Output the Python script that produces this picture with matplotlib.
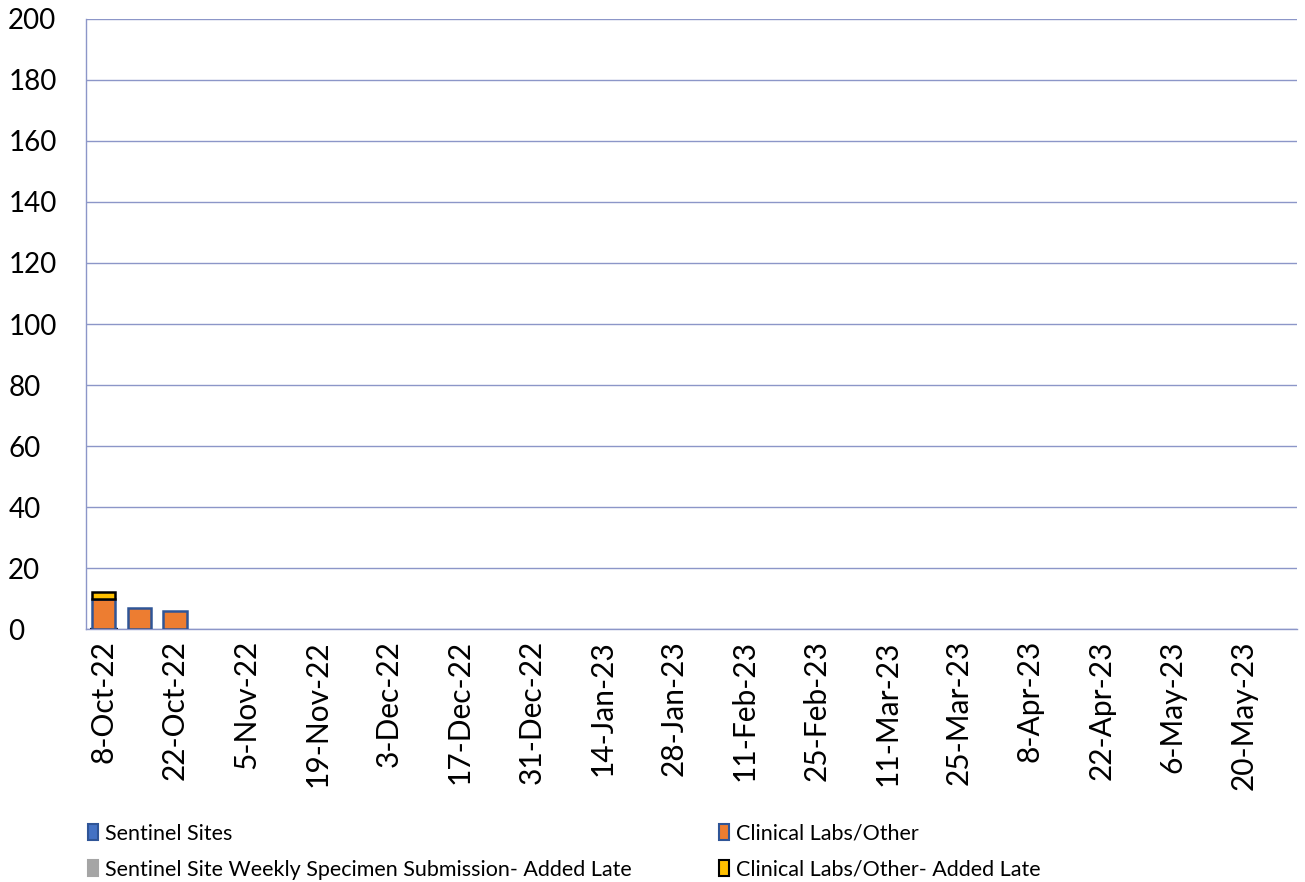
import matplotlib
matplotlib.use("Agg")
from matplotlib import pyplot as plt
import numpy as np

plt.rcParams['font.family'] = ['Lato', 'DejaVu Sans']

# weekly categories (week ending)
weeks = ["8-Oct-22", "15-Oct-22", "22-Oct-22", "29-Oct-22", "5-Nov-22", "12-Nov-22",
         "19-Nov-22", "26-Nov-22", "3-Dec-22", "10-Dec-22", "17-Dec-22", "24-Dec-22",
         "31-Dec-22", "7-Jan-23", "14-Jan-23", "21-Jan-23", "28-Jan-23", "4-Feb-23",
         "11-Feb-23", "18-Feb-23", "25-Feb-23", "4-Mar-23", "11-Mar-23", "18-Mar-23",
         "25-Mar-23", "1-Apr-23", "8-Apr-23", "15-Apr-23", "22-Apr-23", "29-Apr-23",
         "6-May-23", "13-May-23", "20-May-23", "27-May-23"]

sentinel = [0, 0, 0, 0, 0, 0, 0, 0, 0, 0, 0, 0, 0, 0, 0, 0, 0,
            0, 0, 0, 0, 0, 0, 0, 0, 0, 0, 0, 0, 0, 0, 0, 0, 0]
clinical = [10, 7, 6, 0, 0, 0, 0, 0, 0, 0, 0, 0, 0, 0, 0, 0, 0,
            0, 0, 0, 0, 0, 0, 0, 0, 0, 0, 0, 0, 0, 0, 0, 0, 0]
sentinel_late = [0, 0, 0, 0, 0, 0, 0, 0, 0, 0, 0, 0, 0, 0, 0, 0, 0,
                 0, 0, 0, 0, 0, 0, 0, 0, 0, 0, 0, 0, 0, 0, 0, 0, 0]
clinical_late = [2, 0, 0, 0, 0, 0, 0, 0, 0, 0, 0, 0, 0, 0, 0, 0, 0,
                 0, 0, 0, 0, 0, 0, 0, 0, 0, 0, 0, 0, 0, 0, 0, 0, 0]

grid_col = '#8C96C8'

fig = plt.figure(figsize=(13.05, 8.82), dpi=100)
ax = fig.add_axes([0.0659, 0.2868, 0.928, 0.6917])

x = np.arange(len(weeks))
w = 0.65
s = np.array(sentinel, dtype=float)
c = np.array(clinical, dtype=float)
sl = np.array(sentinel_late, dtype=float)
cl = np.array(clinical_late, dtype=float)

def draw(vals, bottom, color, edge, label):
    # only draw non-zero segments so empty weeks stay empty
    m = vals > 0
    ax.bar(x[m], vals[m], w, bottom=bottom[m], color=color, edgecolor=edge,
           linewidth=1.8, zorder=3)
    return ax.bar([0], [0], color=color, edgecolor=edge, linewidth=1.5, label=label)

h1 = draw(s, np.zeros_like(s), '#4472C4', '#2F5597', 'Sentinel Sites')
h2 = draw(c, s, '#ED7D31', '#2F5597', 'Clinical Labs/Other')
h3 = draw(sl, s + c, '#A5A5A5', '#A5A5A5',
          'Sentinel Site Weekly Specimen Submission- Added Late')
h4 = draw(cl, s + c + sl, '#FFC000', 'black', 'Clinical Labs/Other- Added Late')

ax.set_xlim(-0.5, len(weeks) - 0.5)
ax.set_ylim(0, 200)
ax.set_yticks(range(0, 201, 20))
ax.set_xticks(x[::2])
ax.set_xticklabels(weeks[::2], rotation=90, fontsize=21.5)
ax.tick_params(axis='y', labelsize=20, length=0, pad=56)
for lbl in ax.get_yticklabels():
    lbl.set_horizontalalignment('left')
ax.tick_params(axis='x', length=0, pad=8)
ax.yaxis.grid(True, color=grid_col, linewidth=1)
ax.set_axisbelow(True)
for sp in ['top', 'right']:
    ax.spines[sp].set_visible(False)
for sp in ['left', 'bottom']:
    ax.spines[sp].set_color(grid_col)
    ax.spines[sp].set_linewidth(1)

fig.legend(handles=[h1, h3, h2, h4], ncol=2, loc='upper left',
           bbox_to_anchor=(0.0605, 0.076), frameon=False, fontsize=15.5,
           handlelength=0.5, handleheight=0.8, handletextpad=0.3,
           columnspacing=4.05, labelspacing=0.75, borderaxespad=0)

fig.savefig('out.png', dpi=100)
